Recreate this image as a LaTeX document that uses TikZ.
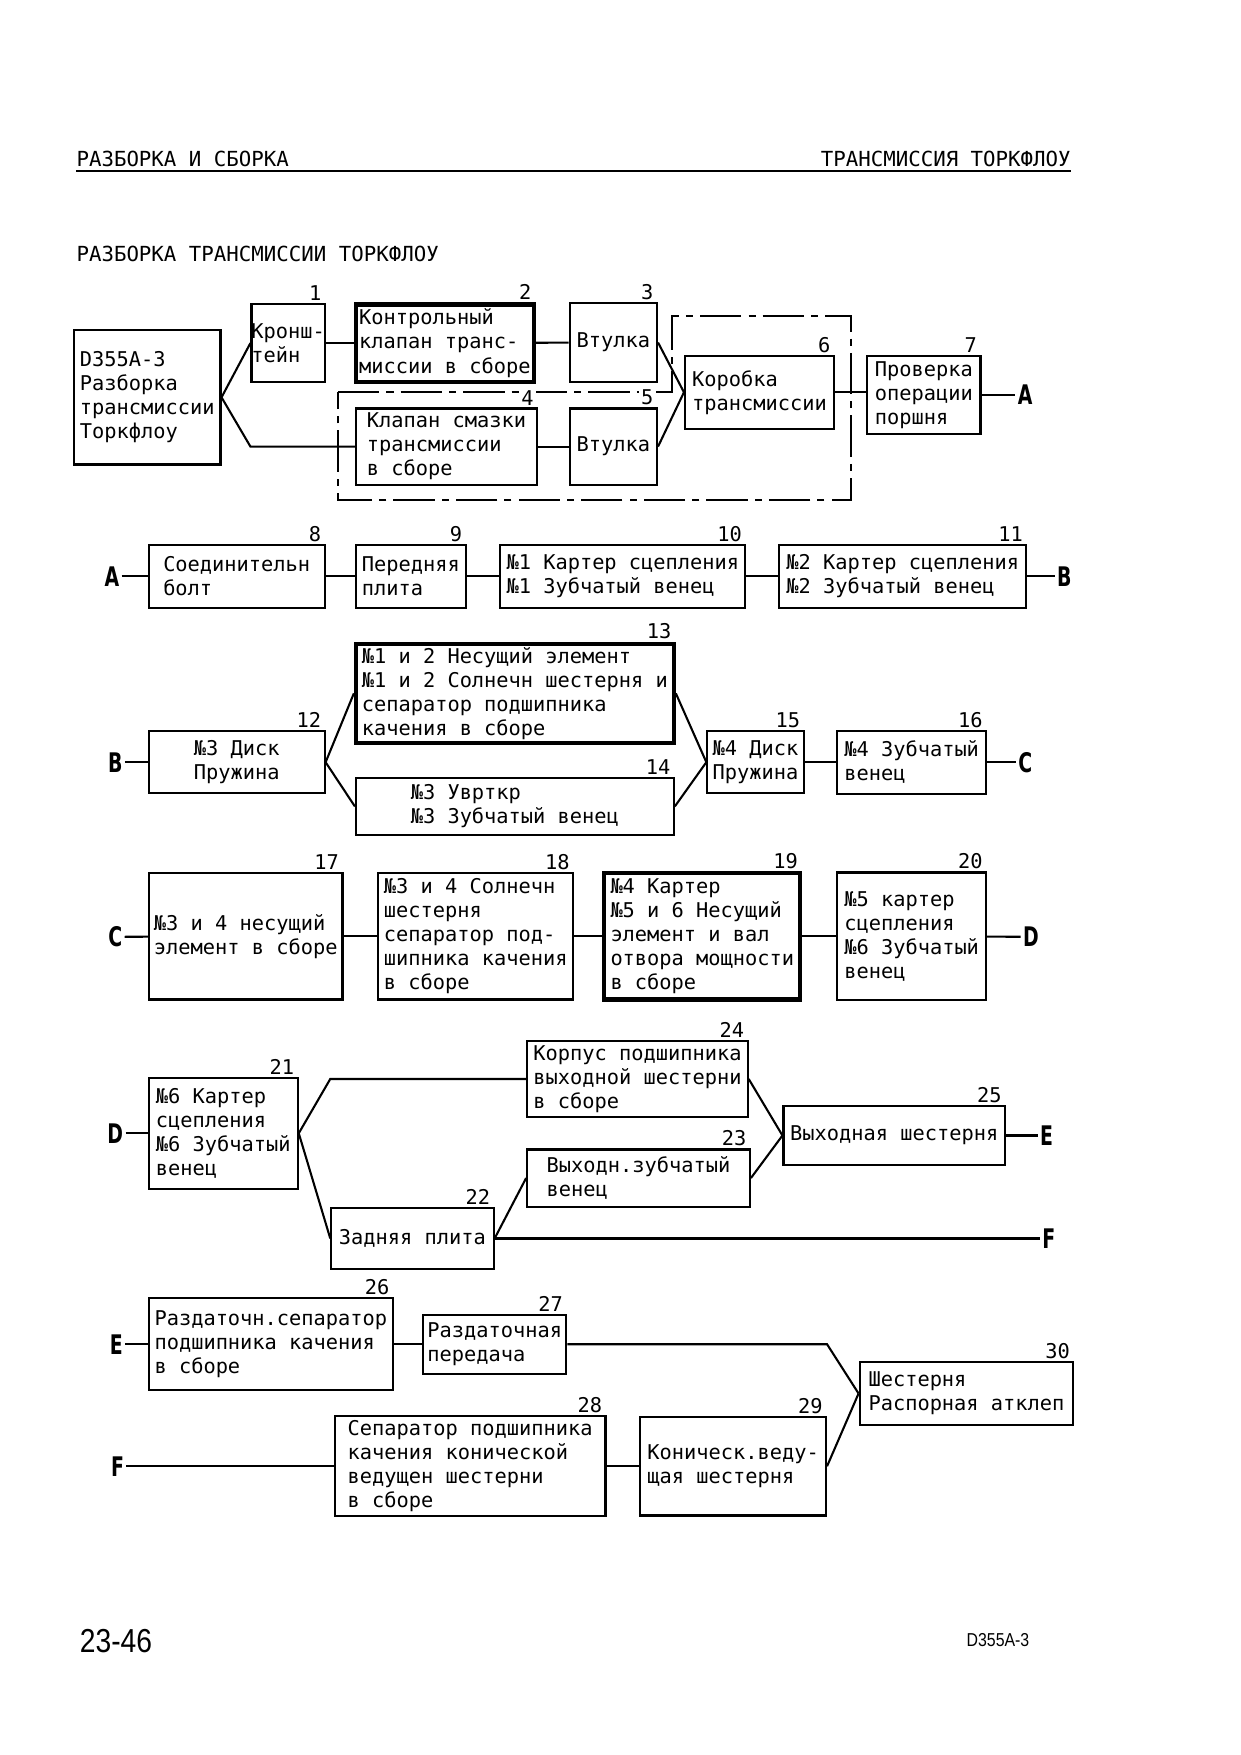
\documentclass[tikz,border=0pt]{standalone}
\usepackage{fontspec}
\setmainfont{DejaVu Sans Mono}
\newfontfamily\letfont[FakeStretch=0.7]{DejaVu Sans}
\newfontfamily\footfont[FakeStretch=0.85]{Liberation Sans}
\usepackage{tikz}
\newlength\pxu
\setlength\pxu{0.18953mm}
\tikzset{
  blk/.style={draw, line width=1pt, inner sep=0pt, align=left, font=\fontsize{9.8}{11.6}\selectfont},
  thk/.style={line width=2pt},
  num/.style={anchor=south east, inner sep=1pt, xshift=-1pt, font=\fontsize{9.8}{11.6}\selectfont},
  conn/.style={line width=1pt},
  letr/.style={inner sep=1pt, font=\letfont\bfseries\fontsize{13}{13}\selectfont},
  frm/.style={line width=1pt, dash pattern=on 7mm off 1.2mm on 1.2mm off 1.2mm},
}

\begin{document}
\begin{tikzpicture}[x=0.18953mm, y=-0.18953mm]
\useasboundingbox (0,0) rectangle (1108,1568);

\node[anchor=base west, inner sep=0pt] (head_l) at (68,149){РАЗБОРКА И СБОРКА};
\node[anchor=base east, inner sep=0pt] (head_r) at (957,149){ТРАНСМИССИЯ ТОРКФЛОУ};
\draw[line width=1.2pt] (68,153)--(957,153);
\node[anchor=base west, inner sep=0pt] (title) at (68,234){РАЗБОРКА ТРАНСМИССИИ ТОРКФЛОУ};

% row 1
\draw[frm] (302,350)--(600,350)--(600,282)--(760,282)--(760,447)--(302,447)--cycle;

\node[blk, minimum width=131\pxu, minimum height=120\pxu] (d0) at (131.5,355){D355A-3\\Разборка\\трансмиссии\\Торкфлоу};
\node[blk, minimum width=65\pxu, minimum height=69\pxu] (b1) at (257.5,306.5){Кронш-\\тейн};
\node[blk, thk, minimum width=159\pxu, minimum height=69\pxu] (b2) at (397.5,306.5){Контрольный\\клапан транс-\\миссии в сборе};
\node[blk, minimum width=78\pxu, minimum height=70\pxu] (b3) at (548,306){Втулка};
\node[blk, minimum width=162\pxu, minimum height=68\pxu] (b4) at (399,399){Клапан смазки\\трансмиссии\\в сборе};
\node[blk, minimum width=78\pxu, minimum height=68\pxu] (b5) at (548,399){Втулка};
\node[blk, minimum width=133\pxu, minimum height=65\pxu] (b6) at (678.5,350.5){Коробка\\трансмиссии};
\node[blk, minimum width=101\pxu, minimum height=70\pxu] (b7) at (825.5,353){Проверка\\операции\\поршня};
\node[letr] (a_out) at (916,353){A};

\node[num] (n1) at (b1.north east){1};
\node[num] (n2) at (b2.north east){2};
\node[num] (n3) at (b3.north east){3};
\node[num, fill=white] (n4) at (b4.north east){4};
\node[num, fill=white] (n5) at (b5.north east){5};
\node[num] (n6) at (b6.north east){6};
\node[num] (n7) at (b7.north east){7};

\draw[conn] (d0.east)--(b1.west);
\draw[conn] (d0.east)--(b1.west |- b4.west)--(b4.west);
\draw[conn] (b1)--(b2);
\draw[conn] (b2)--(b3);
\draw[conn] (b4)--(b5);
\draw[conn] (b3.east)--(b6.west);
\draw[conn] (b5.east)--(b6.west);
\draw[conn] (b6.east)--(b6.east -| b7.west);
\draw[conn] (b7.east)--(a_out.west);

% row 2
\node[letr] (a_in) at (100,515){A};
\node[blk, minimum width=157\pxu, minimum height=56\pxu] (b8) at (211.5,515){Соединительн\\болт};
\node[blk, minimum width=98\pxu, minimum height=56\pxu] (b9) at (367,515){Передняя\\плита};
\node[blk, minimum width=219\pxu, minimum height=56\pxu] (b10) at (556.5,515){№1 Картер сцепления\\№1 Зубчатый венец};
\node[blk, minimum width=221\pxu, minimum height=56\pxu] (b11) at (806.5,515){№2 Картер сцепления\\№2 Зубчатый венец};
\node[letr] (b_out) at (951,515){B};

\node[num] (n8) at (b8.north east){8};
\node[num] (n9) at (b9.north east){9};
\node[num] (n10) at (b10.north east){10};
\node[num] (n11) at (b11.north east){11};

\draw[conn] (a_in)--(b8);
\draw[conn] (b8)--(b9);
\draw[conn] (b9)--(b10);
\draw[conn] (b10)--(b11);
\draw[conn] (b11)--(b_out);

% row 3
\node[letr] (b_in) at (103,681){B};
\node[blk, minimum width=157\pxu, minimum height=55\pxu] (b12) at (211.5,681){№3 Диск\\Пружина};
\node[blk, thk, minimum width=284\pxu, minimum height=89\pxu] (b13) at (460,619.5){№1 и 2 Несущий элемент\\№1 и 2 Солнечн шестерня и\\сепаратор подшипника\\качения в сборе};
\node[blk, minimum width=284\pxu, minimum height=51\pxu] (b14) at (460,720.5){№3 Увртк{}р\\№3 Зубчатый венец};
\node[blk, minimum width=86\pxu, minimum height=55\pxu] (b15) at (675,681){№4 Диск\\Пружина};
\node[blk, minimum width=133\pxu, minimum height=56\pxu] (b16) at (814.5,681){№4 Зубчатый\\венец};
\node[letr] (c_out) at (916,681){C};

\node[num] (n12) at (b12.north east){12};
\node[num] (n13) at (b13.north east){13};
\node[num] (n14) at (b14.north east){14};
\node[num] (n15) at (b15.north east){15};
\node[num] (n16) at (b16.north east){16};

\draw[conn] (b_in)--(b12);
\draw[conn] (b12.east)--(b13.west);
\draw[conn] (b12.east)--(b14.west);
\draw[conn] (b13.east)--(b15.west);
\draw[conn] (b14.east)--(b15.west);
\draw[conn] (b15)--(b16);
\draw[conn] (b16)--(c_out);

% row 4
\node[letr] (c_in) at (103,837){C};
\node[blk, minimum width=173\pxu, minimum height=113\pxu] (b17) at (219.5,836.5){№3 и 4 несущий\\элемент в сборе};
\node[blk, minimum width=174\pxu, minimum height=113\pxu] (b18) at (425,836.5){№3 и 4 Солнечн\\шестерня\\сепаратор под-\\шипника качения\\в сборе};
\node[blk, thk, minimum width=175\pxu, minimum height=113\pxu] (b19) at (627.5,836.5){№4 Картер\\№5 и 6 Несущий\\элемент и вал\\отвора мощности\\в сборе};
\node[blk, minimum width=133\pxu, minimum height=114\pxu] (b20) at (814.5,836.5){№5 картер\\сцепления\\№6 Зубчатый\\венец};
\node[letr] (d_out) at (921,837){D};

\node[num] (n17) at (b17.north east){17};
\node[num] (n18) at (b18.north east){18};
\node[num] (n19) at (b19.north east){19};
\node[num] (n20) at (b20.north east){20};

\draw[conn] (c_in)--(b17);
\draw[conn] (b17)--(b18);
\draw[conn] (b18)--(b19);
\draw[conn] (b19)--(b20);
\draw[conn] (b20)--(d_out);

% row 5
\node[letr] (d_in) at (103,1012.5){D};
\node[blk, minimum width=133\pxu, minimum height=99\pxu] (b21) at (199.5,1012.5){№6 Картер\\сцепления\\№6 Зубчатый\\венец};
\node[blk, minimum width=145\pxu, minimum height=55\pxu] (b22) at (368.5,1106.5){Задняя плита};
\node[blk, minimum width=199\pxu, minimum height=51\pxu] (b23) at (570.5,1052.5){Выходн.зубчатый\\венец};
\node[blk, minimum width=197\pxu, minimum height=68\pxu] (b24) at (569.5,964){Корпус подшипника\\выходной шестерни\\в сборе};
\node[blk, minimum width=198\pxu, minimum height=53\pxu] (b25) at (799,1014.5){Выходная шестерня};
\node[letr] (e_out) at (935,1014.5){E};
\node[letr] (f_out) at (937,1106.5){F};

\node[num] (n21) at (b21.north east){21};
\node[num] (n22) at (b22.north east){22};
\node[num] (n23) at (b23.north east){23};
\node[num] (n24) at (b24.north east){24};
\node[num] (n25) at (b25.north east){25};

\draw[conn] (d_in)--(b21);
\draw[conn] (b21.east)--(b22.west |- b24.west)--(b24.west);
\draw[conn] (b21.east)--(b22.west);
\draw[conn] (b22.east)--(b23.west);
\draw[conn] (b22.east)--(f_out.west);
\draw[conn] (b24.east)--(b25.west);
\draw[conn] (b23.east)--(b25.west);
\draw[conn] (b25)--(e_out);

% row 6
\node[letr] (e_in) at (104,1201){E};
\node[blk, minimum width=218\pxu, minimum height=82\pxu] (b26) at (242,1201){Раздаточн.сепаратор\\подшипника качения\\в сборе};
\node[blk, minimum width=128\pxu, minimum height=53\pxu] (b27) at (442,1201){Раздаточная\\передача};
\node[blk, minimum width=242\pxu, minimum height=89\pxu] (b28) at (420,1310){Сепаратор подшипника\\качения конической\\ведущен шестерни\\в сборе};
\node[blk, minimum width=166\pxu, minimum height=88\pxu] (b29) at (655,1310){Коническ.веду-\\щая шестерня};
\node[blk, minimum width=191\pxu, minimum height=56\pxu] (b30) at (863.5,1245){Шестерня\\Распорная атклеп};
\node[letr] (f_in) at (105,1310){F};

\node[num] (n26) at (b26.north east){26};
\node[num] (n27) at (b27.north east){27};
\node[num] (n28) at (b28.north east){28};
\node[num] (n29) at (b29.north east){29};
\node[num] (n30) at (b30.north east){30};

\draw[conn] (e_in)--(b26);
\draw[conn] (b26)--(b27);
\draw[conn] (b27.east)--(b27.east -| b29.east)--(b30.west);
\draw[conn] (f_in)--(b28);
\draw[conn] (b28)--(b29);
\draw[conn] (b29.east)--(b30.west);

\node[anchor=base west, inner sep=0pt, font=\footfont\fontsize{16}{16}\selectfont] (page_no) at (71,1476){23-46};
\node[anchor=base east, inner sep=0pt, font=\footfont\fontsize{9}{9}\selectfont] (model) at (920,1471){D355A-3};
\end{tikzpicture}
\end{document}
